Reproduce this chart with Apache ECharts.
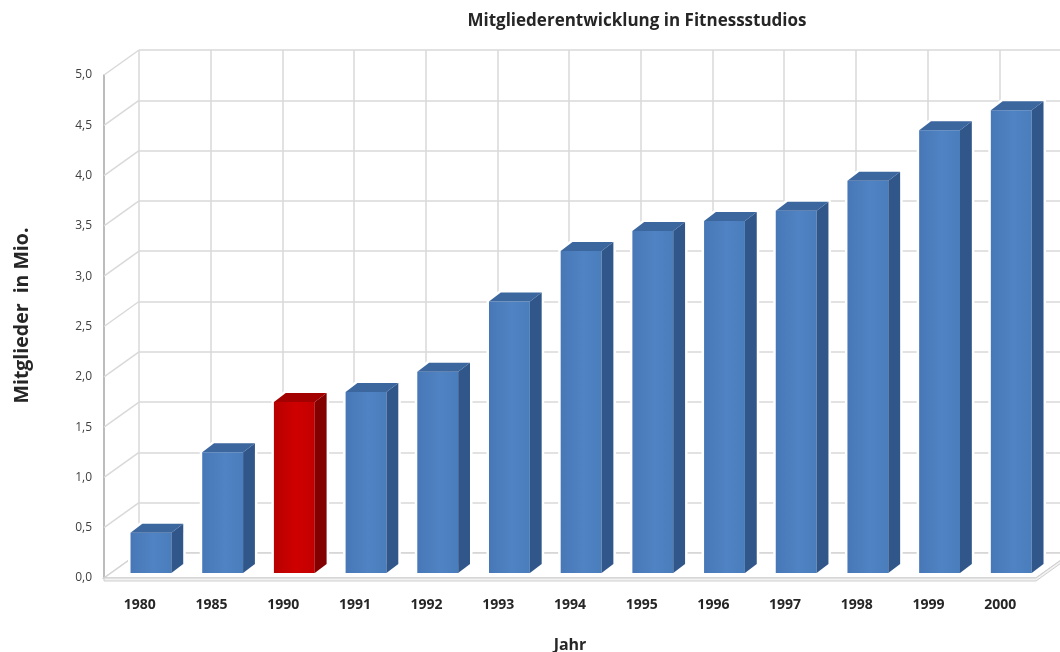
<!DOCTYPE html>
<html>
<head>
<meta charset="utf-8">
<script src="https://cdn.jsdelivr.net/npm/echarts@6/dist/echarts.min.js"></script>
<style>
  html, body { margin: 0; padding: 0; background: #ffffff; }
  #chart { width: 1060px; height: 652px; }
</style>
</head>
<body>
<div id="chart"></div>
<script>
// Mitglieder in Fitnessstudios (Mio.) je Jahr
const years = ['1980', '1985', '1990', '1991', '1992', '1993', '1994', '1995', '1996', '1997', '1998', '1999', '2000'];
const members = [0.4, 1.2, 1.7, 1.8, 2.0, 2.7, 3.2, 3.4, 3.5, 3.6, 3.9, 4.4, 4.6];
const yTicks = [0, 0.5, 1.0, 1.5, 2.0, 2.5, 3.0, 3.5, 4.0, 4.5, 5.0];

const highlightYear = '1990';

// pseudo-3D depth of the plot box: back wall sits up and right of the front plane
const WALL_DX = 35;
const WALL_DY = -25;
const PLOT = { left: 104, top: 75, width: 932, height: 503 };

const chart = echarts.init(document.getElementById('chart'));

const gridColor = '#d9d9d9';
const fontFamily = '"Open Sans", "Noto Sans", sans-serif';

function commaLabel(v) {
  return Number(v).toFixed(1).replace('.', ',');
}

// left side wall: one diagonal per y tick, from the front axis to the back wall
function renderSideWall(params, api) {
  const p = api.coord([0, api.value(1)]);
  const band = api.size([1, 0])[0];
  const x = p[0] - band / 2;
  return {
    type: 'line',
    shape: { x1: x, y1: p[1], x2: x + WALL_DX, y2: p[1] + WALL_DY },
    style: { stroke: gridColor, lineWidth: 1.5 },
    silent: true
  };
}

// floor panel below the bars
function renderFloor(params, api) {
  const first = api.coord([0, 0]);
  const last = api.coord([years.length - 1, 0]);
  const band = api.size([1, 0])[0];
  const l = first[0] - band / 2;
  const r = last[0] + band / 2;
  const y = first[1];
  return {
    type: 'group',
    silent: true,
    children: [
      {
        type: 'polygon',
        shape: { points: [[l, y], [r, y], [r + WALL_DX, y + WALL_DY], [l + WALL_DX, y + WALL_DY]] },
        style: { fill: '#ffffff', stroke: '#d4d4d4', lineWidth: 1.5 }
      },
      {
        type: 'polygon',
        shape: { points: [[l, y], [r, y], [r + WALL_DX, y + WALL_DY], [r + WALL_DX, y + WALL_DY + 3], [r, y + 3], [l, y + 3]] },
        style: { fill: '#f2f2f2', stroke: '#cfcfcf', lineWidth: 1 }
      }
    ]
  };
}

// one 3D column: front face, right side face, top face
function renderBar(params, api) {
  const i = api.value(0);
  const v = api.value(1);
  const base = api.coord([i, 0]);
  const head = api.coord([i, v]);
  const band = api.size([1, 0])[0];
  const red = years[i] === highlightYear;

  const lift = 5;
  const cx = base[0] + band * 0.155;
  const half = band * 0.285;
  const x0 = cx - half;
  const x1 = cx + half;
  const yb = base[1] - lift;
  const yt = head[1] - lift;
  const dx = band * 0.165;
  const dy = -9;

  const front = red
    ? new echarts.graphic.LinearGradient(0, 0, 1, 0, [
        { offset: 0, color: '#b80000' },
        { offset: 0.55, color: '#cf0000' },
        { offset: 1, color: '#c20000' }
      ])
    : new echarts.graphic.LinearGradient(0, 0, 1, 0, [
        { offset: 0, color: '#4777b7' },
        { offset: 0.55, color: '#5083c3' },
        { offset: 1, color: '#4a7dbc' }
      ]);
  const side = red ? '#820000' : '#31578a';
  const top = red ? '#a30000' : '#3b669e';

  return {
    type: 'group',
    silent: true,
    children: [
      {
        type: 'polygon',
        shape: { points: [[x0, yb], [x0, yt], [x0 + dx, yt + dy], [x1 + dx, yt + dy], [x1 + dx, yb + dy], [x1, yb]] },
        style: { fill: '#ffffff', stroke: '#ffffff', lineWidth: 5, lineJoin: 'round' }
      },
      {
        type: 'rect',
        shape: { x: x0, y: yt, width: x1 - x0, height: yb - yt },
        style: { fill: front }
      },
      {
        type: 'polygon',
        shape: { points: [[x1, yt], [x1 + dx, yt + dy], [x1 + dx, yb + dy], [x1, yb]] },
        style: { fill: side }
      },
      {
        type: 'polygon',
        shape: { points: [[x0, yt], [x0 + dx, yt + dy], [x1 + dx, yt + dy], [x1, yt]] },
        style: { fill: top }
      }
    ]
  };
}

chart.setOption({
  backgroundColor: '#ffffff',
  animation: false,
  title: {
    text: 'Mitgliederentwicklung in Fitnessstudios',
    left: 632,
    top: 8,
    textAlign: 'center',
    textStyle: { fontFamily, fontSize: 17, fontWeight: 'bold', color: '#262626' }
  },
  grid: [
    { left: PLOT.left, top: PLOT.top, width: PLOT.width, height: PLOT.height, outerBoundsMode: 'none' },
    { left: PLOT.left + WALL_DX, top: PLOT.top + WALL_DY, width: PLOT.width, height: PLOT.height, outerBoundsMode: 'none' }
  ],
  xAxis: [
    {
      type: 'category',
      gridIndex: 0,
      data: years,
      axisLine: { show: true, lineStyle: { color: '#c4c4c4', width: 1.5 } },
      axisTick: { show: false },
      splitLine: { show: false },
      axisLabel: { margin: 20, fontFamily, fontSize: 14, fontWeight: 'bold', color: '#262626' },
      name: 'Jahr',
      nameLocation: 'middle',
      nameGap: 59,
      nameTextStyle: { fontFamily, fontSize: 16, fontWeight: 'bold', color: '#262626' }
    },
    {
      type: 'category',
      gridIndex: 1,
      data: years,
      axisLine: { show: false },
      axisTick: { show: false },
      axisLabel: { show: false },
      splitLine: { show: true, lineStyle: { color: gridColor, width: 1.5 } }
    }
  ],
  yAxis: [
    {
      type: 'value',
      gridIndex: 0,
      min: 0,
      max: 5,
      interval: 0.5,
      axisLine: { show: true, lineStyle: { color: '#a6a6a6', width: 1.5 } },
      axisTick: { show: false },
      splitLine: { show: false },
      axisLabel: { margin: 12, fontFamily, fontSize: 12, color: '#404040', formatter: commaLabel, padding: [5, 0, 0, 0] },
      name: 'Mitglieder  in Mio.',
      nameLocation: 'middle',
      nameRotate: 90,
      nameGap: 72,
      nameTextStyle: { fontFamily, fontSize: 19.5, fontWeight: 'bold', color: '#262626', padding: [0, 0, 0, 22] }
    },
    {
      type: 'value',
      gridIndex: 1,
      min: 0,
      max: 5,
      interval: 0.5,
      axisLine: { show: false },
      axisTick: { show: false },
      axisLabel: { show: false },
      splitLine: { show: true, lineStyle: { color: gridColor, width: 1.5 } }
    }
  ],
  series: [
    {
      type: 'custom',
      name: 'Seitenwand',
      xAxisIndex: 0,
      yAxisIndex: 0,
      renderItem: renderSideWall,
      data: yTicks.map(v => [0, v]),
      z: 1
    },
    {
      type: 'custom',
      name: 'Boden',
      xAxisIndex: 0,
      yAxisIndex: 0,
      renderItem: renderFloor,
      data: [[0, 0]],
      z: 1
    },
    {
      type: 'custom',
      name: 'Mitglieder',
      xAxisIndex: 0,
      yAxisIndex: 0,
      renderItem: renderBar,
      encode: { x: 0, y: 1 },
      data: members.map((v, i) => [i, v]),
      z: 3
    }
  ]
});
</script>
</body>
</html>
